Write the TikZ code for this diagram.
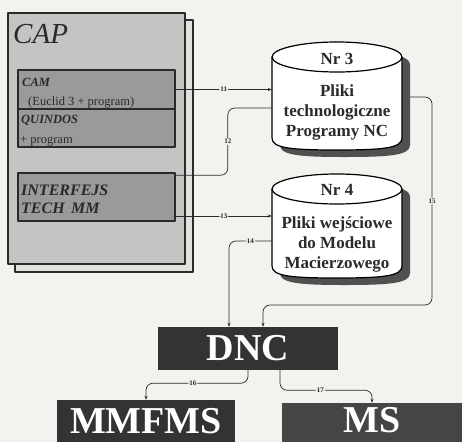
\documentclass[tikz,border=0pt]{standalone}
\usepackage{fontspec}
\setmainfont{Liberation Serif}
\usetikzlibrary{arrows.meta,calc}
\definecolor{paper}{HTML}{F2F2EF}
\definecolor{capgray}{HTML}{C4C4C2}
\definecolor{modgray}{HTML}{9A9A98}
\definecolor{inkdark}{HTML}{2A2A2A}
\definecolor{blockdark}{HTML}{333333}
\definecolor{msgray}{HTML}{454545}
\definecolor{shadegray}{HTML}{505050}
\newcommand{\drum}[2]{%
  \fill[shadegray,shift={(8,7)}] (272,#1) -- (272,{#2-12}) .. controls (272,{#2-2}) and (290,#2) .. (337,#2) .. controls (384,#2) and (402,{#2-2}) .. (402,{#2-12}) -- (402,#1) -- cycle;
  \fill[shadegray,shift={(8,7)}] (337,#1) ellipse [x radius=65, y radius=15];
  \fill[white] (272,#1) -- (272,{#2-12}) .. controls (272,{#2-2}) and (290,#2) .. (337,#2) .. controls (384,#2) and (402,{#2-2}) .. (402,{#2-12}) -- (402,#1) -- cycle;
  \draw[line width=1.2pt] (272,#1) -- (272,{#2-12}) .. controls (272,{#2-2}) and (290,#2) .. (337,#2) .. controls (384,#2) and (402,{#2-2}) .. (402,{#2-12}) -- (402,#1);
  \filldraw[fill=white,line width=1.2pt] (337,#1) ellipse [x radius=65, y radius=15];
}
\begin{document}
\begin{tikzpicture}[x=1pt,y=-1pt,line join=round,
  modbox/.style={draw=inkdark,line width=1.6pt,fill=modgray,minimum width=157pt,inner sep=0pt},
  modtxt/.style={anchor=base west,inner sep=0pt,text=inkdark},
  subtxt/.style={anchor=base west,inner sep=0pt,text=inkdark,font=\fontsize{12.5}{13}\selectfont},
  bodyzone/.style={minimum width=130pt,inner sep=0pt},
  cyltxt/.style={font=\fontsize{17}{20}\selectfont\bfseries,align=center,inner sep=0pt,text=inkdark},
  darkblock/.style={fill=blockdark,inner sep=0pt,text=white,font=\fontsize{38}{40}\selectfont\bfseries},
  conn/.style={draw=inkdark,line width=0.7pt,rounded corners=7pt},
  tip/.style={-{Stealth[length=4pt,width=3pt]}},
  numlbl/.style={font=\fontsize{7}{7}\selectfont\bfseries,fill=paper,inner sep=1pt,text=inkdark}]
  \useasboundingbox[fill=paper] (0,0) rectangle (462,442);
  \node[minimum width=177pt,minimum height=251pt,inner sep=0pt] (cap) at (96.5,138.5) {};
  \draw[line width=1.6pt,draw=inkdark,fill=paper!85!gray] ($(cap.north west)+(7,7)$) rectangle ($(cap.south east)+(8,8)$);
  \node[draw=inkdark,line width=1.6pt,fill=capgray,minimum width=177pt,minimum height=251pt,inner sep=0pt] at (cap) {};
  \node[modtxt,font=\fontsize{29}{30}\selectfont\itshape] (captitle) at (13,43) {CAP};
  \node[modbox,minimum height=39pt] (cam) at (96.5,89.5) {};
  \node[modbox,minimum height=38pt] (quindos) at (96.5,128) {};
  \node[modbox,minimum height=48pt] (interf) at (96.5,197) {};
  \node[modtxt,font=\fontsize{12.5}{14}\selectfont\bfseries\itshape] (camlbl) at (22,86) {CAM};
  \node[subtxt] (camsub) at (28,105) {(Euclid 3 + program)};
  \node[modtxt,font=\fontsize{12.5}{14}\selectfont\bfseries\itshape] (quinlbl) at (21,123) {QUINDOS};
  \node[subtxt] (quinsub) at (20,143) {+ program};
  \node[modtxt,font=\fontsize{16}{18}\selectfont\bfseries\itshape] (intlbl) at (21,195) {INTERFEJS};
  \node[modtxt,font=\fontsize{16}{18}\selectfont\bfseries\itshape] (techlbl) at (21,213) {TECH\hspace{0.4em}MM};

  \drum{57}{150}
  \drum{189}{278}
  \node[bodyzone,minimum height=93pt] (nr3) at (337,103.5) {};
  \node[bodyzone,minimum height=89pt] (nr4) at (337,233.5) {};
  \node[cyltxt,anchor=base] (nr3head) at (337,64) {Nr 3};
  \node[cyltxt,anchor=north] (nr3text) at (337,84.5) {Pliki\\technologiczne\\Programy NC};
  \node[cyltxt,anchor=base] (nr4head) at (337,195) {Nr 4};
  \node[cyltxt,anchor=north] (nr4text) at (337,216.5) {Pliki wejściowe\\do Modelu\\Macierzowego};

  \node[darkblock,minimum width=180pt,minimum height=43pt] (dnc) at (248,348.5) {DNC};
  \node[darkblock,minimum width=178pt,minimum height=42pt,text height=25pt,text depth=0pt] (mmfms) at (146,421) {MMFMS};
  \node[darkblock,fill=msgray,minimum width=180pt,minimum height=39pt,text height=25pt,text depth=5pt] (ms) at (372,422.5) {MS};

  \coordinate (i12) at ([yshift=-3pt]interf.north east);
  \coordinate (n12) at ([yshift=-4.5pt]nr3.west);
  \coordinate (i13) at ([yshift=-19pt]interf.east);
  \coordinate (n14) at ([yshift=-7.5pt]nr4.west);
  \coordinate (n15) at ([xshift=8pt,yshift=6.5pt]nr3.east);
  \coordinate (bus15) at (432,305);
  \coordinate (d16) at ([yshift=-13pt]dnc.south);
  \coordinate (s17) at ([xshift=32pt]dnc.south);
  \coordinate (d17) at ([xshift=32pt,yshift=-20pt]dnc.south);
  \draw[conn,tip] (cam.east) -- (cam.east -| nr3.west) node[numlbl,midway] {11};
  \draw[conn] (i12) -| ([xshift=-44pt]n12) node[numlbl,pos=0.75] {12} -- (n12);
  \draw[conn,tip] (i13) -- (i13 -| nr4.west) node[numlbl,midway] {13};
  \draw[conn,tip] (n14) -| ([xshift=-19pt]dnc.north) node[numlbl,pos=0.25] {14};
  \draw[conn,tip] (n15) -| (bus15) node[numlbl,pos=0.75] {15} -| ([xshift=15pt]dnc.north);
  \draw[conn,tip] (dnc.south) -- (d16) -| (mmfms.north) node[numlbl,pos=0.27] {16};
  \draw[conn,tip] (s17) -- (d17) -| (ms.north) node[numlbl,pos=0.22] {17};
\end{tikzpicture}
\end{document}
